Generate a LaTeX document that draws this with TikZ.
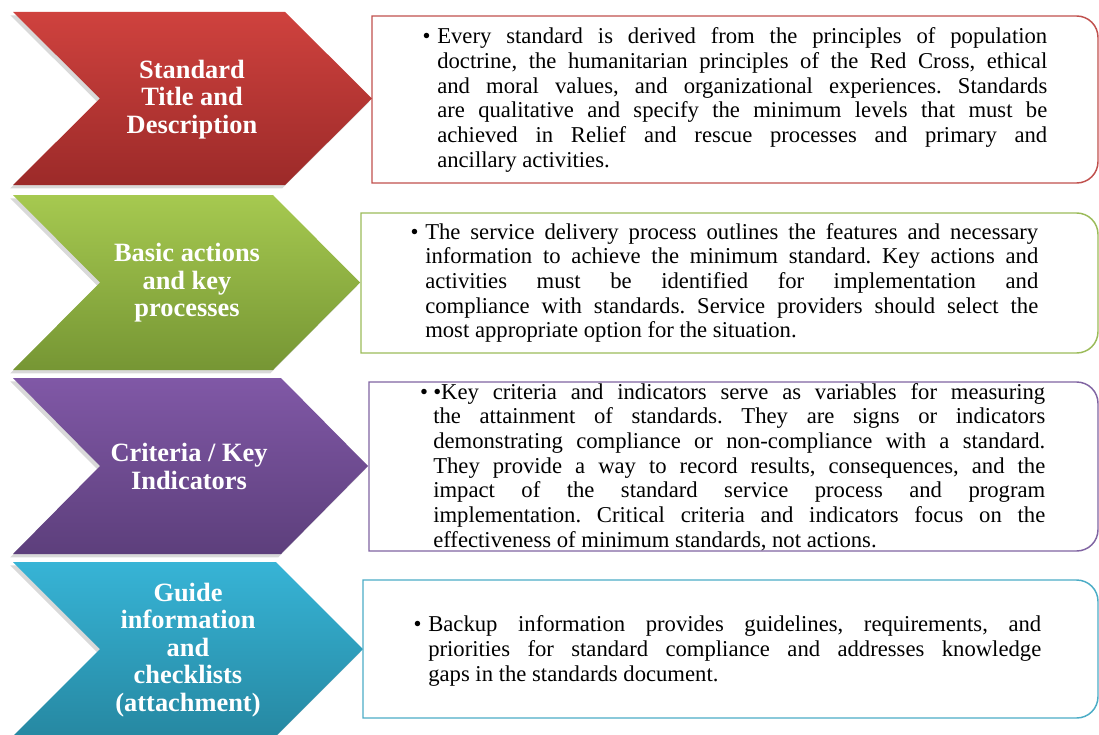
\documentclass[tikz,border=0pt]{standalone}
\usepackage{fontspec}
\setmainfont{Liberation Serif}
\usetikzlibrary{shadows}
\frenchspacing

\definecolor{redtop}{RGB}{207,66,62}
\definecolor{redbot}{RGB}{156,42,41}
\definecolor{redline}{RGB}{192,80,77}
\definecolor{greentop}{RGB}{166,201,80}
\definecolor{greenbot}{RGB}{118,150,52}
\definecolor{greenline}{RGB}{155,187,89}
\definecolor{purpletop}{RGB}{128,88,166}
\definecolor{purplebot}{RGB}{93,63,124}
\definecolor{purpleline}{RGB}{128,100,162}
\definecolor{cyantop}{RGB}{55,180,214}
\definecolor{cyanbot}{RGB}{38,136,162}
\definecolor{cyanline}{RGB}{75,172,198}

\begin{document}
\begin{tikzpicture}[x=0.75pt, y=-0.75pt,
  chevron/.style = {drop shadow={shadow xshift=-2pt, shadow yshift=-2.5pt, opacity=.3}},
  head/.style = {text=white, align=center, inner sep=0pt,
    font=\fontsize{19.8}{20.6}\selectfont\bfseries},
  body/.style = {anchor=west, text width=459pt, align=justify, inner sep=0pt,
    font=\fontsize{17}{18.5}\selectfont},
  outline/.style = {line width=1.1pt}]
  \useasboundingbox (0,0) rectangle (1099,735);

  % chevrons on the left
  \shade[chevron, top color=redtop, bottom color=redbot]
    (13,12) -- (285,12) -- (372,98.5) -- (285,185) -- (13,185) -- (100,98.5) -- cycle;
  \shade[chevron, top color=greentop, bottom color=greenbot]
    (13,195) -- (273,195) -- (360,282.5) -- (273,370) -- (13,370) -- (100,282.5) -- cycle;
  \shade[chevron, top color=purpletop, bottom color=purplebot]
    (13,378) -- (281,378) -- (368,466) -- (281,554) -- (13,554) -- (100,466) -- cycle;
  \shade[chevron, top color=cyantop, bottom color=cyanbot]
    (13,562) -- (276,562) -- (363,649) -- (276,736) -- (13,736) -- (100,649) -- cycle;

  \node[head] (head1) at (192,99.5) {Standard\\Title and\\Description};
  \node[head] (head2) at (187,283) {Basic actions\\and key\\processes};
  \node[head] (head3) at (189,466.5) {Criteria / Key\\Indicators};
  \node[head] (head4) at (188,650) {Guide\\information\\and\\checklists\\(attachment)};

  % boxes on the right
  \draw[outline, redline] (372,99.5) -- (372,16) [rounded corners=16pt] -- (1098,16)
    -- (1098,183) [sharp corners] -- (372,183) -- cycle;
  \draw[outline, greenline] (361,283) -- (361,213) [rounded corners=16pt] -- (1098,213)
    -- (1098,353) [sharp corners] -- (361,353) -- cycle;
  \draw[outline, purpleline] (369,466) -- (369,382) [rounded corners=16pt] -- (1098,382)
    -- (1098,551) [sharp corners] -- (369,551) -- cycle;
  \draw[outline, cyanline] (363,649) -- (363,580) [rounded corners=16pt] -- (1098,580)
    -- (1098,718) [sharp corners] -- (363,718) -- cycle;

  \node[body, text width=457.5pt] (body1) at (437,100) {\llap{\textbullet\hspace{5pt}}Every
    standard is derived from the principles of population\linebreak
    doctrine, the humanitarian principles of the Red Cross, ethical\linebreak
    and moral values, and organizational experiences. Standards\linebreak
    are qualitative and specify the minimum levels that must be\linebreak
    achieved in Relief and rescue processes and primary and\linebreak
    ancillary activities.};
  \node[body, text width=459.75pt] (body2) at (425,283) {\llap{\textbullet\hspace{5pt}}The
    service delivery process outlines the features and necessary\linebreak
    information to achieve the minimum standard. Key actions and\linebreak
    activities must be identified for implementation and\linebreak
    compliance with standards. Service providers should select the\linebreak
    most appropriate option for the situation.};
  \node[body] (body3) at (433,467) {\llap{\textbullet\hspace{4pt}}\textbullet Key
    criteria and indicators serve as variables for measuring\linebreak
    the attainment of standards. They are signs or indicators\linebreak
    demonstrating compliance or non-compliance with a standard.\linebreak
    They provide a way to record results, consequences, and the\linebreak
    impact of the standard service process and program\linebreak
    implementation. Critical criteria and indicators focus on the\linebreak
    effectiveness of minimum standards, not actions.};
  \node[body, text width=459.75pt] (body4) at (428,651) {\llap{\textbullet\hspace{5pt}}Backup
    information provides guidelines, requirements, and\linebreak
    priorities for standard compliance and addresses knowledge\linebreak
    gaps in the standards document.};
\end{tikzpicture}
\end{document}
